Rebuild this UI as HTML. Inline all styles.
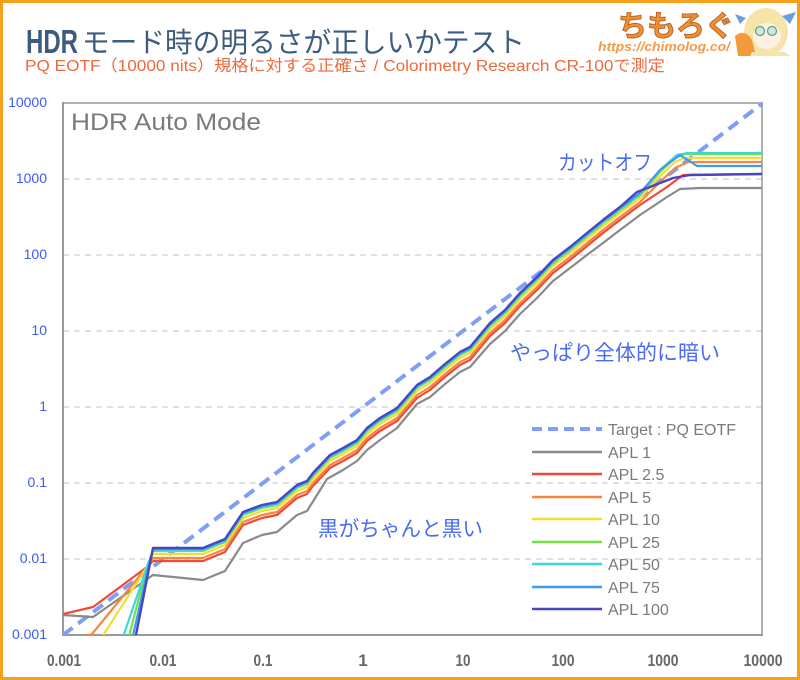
<!DOCTYPE html>
<html>
<head>
<meta charset="utf-8">
<style>
  html,body{margin:0;padding:0;background:#fff;}
  svg{display:block;}
  text{font-family:"Liberation Sans","Noto Sans CJK JP",sans-serif;}
</style>
</head>
<body>
<svg width="800" height="680" viewBox="0 0 800 680" xmlns="http://www.w3.org/2000/svg">
  <defs>
    <clipPath id="plot"><rect x="63" y="103" width="700" height="532"/></clipPath>
  </defs>
  <rect x="0" y="0" width="800" height="680" fill="#fff"/>
  <rect x="1.5" y="1.5" width="797" height="677" fill="none" stroke="#f6a11e" stroke-width="3"/>

  <!-- Title -->
  <text x="26" y="53" font-size="33" font-weight="bold" fill="#3d5b7e" textLength="52" lengthAdjust="spacingAndGlyphs">HDR</text>
  <text x="82" y="52" font-size="28" fill="#3d5b7e" textLength="443" lengthAdjust="spacingAndGlyphs">モード時の明るさが正しいかテスト</text>
  <text x="25" y="71" font-size="16" fill="#ec6a3c" textLength="640" lengthAdjust="spacingAndGlyphs">PQ EOTF（10000 nits）規格に対する正確さ / Colorimetry Research CR-100で測定</text>

  <!-- Logo -->
  <text x="618" y="36" font-size="29" font-weight="bold" fill="#f5902e" stroke="#b8652a" stroke-width="1" textLength="116" lengthAdjust="spacingAndGlyphs">ちもろぐ</text>
  <text x="598" y="51" font-size="13" font-weight="bold" font-style="italic" fill="#f39a4a" textLength="132" lengthAdjust="spacingAndGlyphs">https://chimolog.co/</text>
  <g>
    <ellipse cx="766" cy="32" rx="22" ry="24" fill="#f6e4aa"/>
    <path d="M746 18 L735 14 L740 24 Z" fill="#6a9ee0"/>
    <path d="M782 16 L796 12 L790 24 Z" fill="#6a9ee0"/>
    <ellipse cx="767" cy="36" rx="14" ry="13" fill="#fdf1e4"/>
    <circle cx="760" cy="31" r="4.5" fill="#cfe8d8" stroke="#5aa088" stroke-width="1.2"/>
    <circle cx="772" cy="31" r="4.5" fill="#cfe8d8" stroke="#5aa088" stroke-width="1.2"/>
    <path d="M735 36 Q745 28 752 40 L756 56 L738 56 Z" fill="#f29a3c"/>
    <path d="M752 52 L785 52 L790 56 L750 56 Z" fill="#f6e4aa"/>
  </g>

  <!-- Grid -->
  <g stroke="#cfcfcf" stroke-width="1.2" stroke-dasharray="6 5">
    <line x1="63" y1="179" x2="762" y2="179"/>
    <line x1="63" y1="255" x2="762" y2="255"/>
    <line x1="63" y1="331" x2="762" y2="331"/>
    <line x1="63" y1="407" x2="762" y2="407"/>
    <line x1="63" y1="483" x2="762" y2="483"/>
    <line x1="63" y1="559" x2="762" y2="559"/>
  </g>

  <!-- Frame -->
  <rect x="63" y="103" width="699" height="532" fill="none" stroke="#b0b0b0" stroke-width="2"/>
  <line x1="63" y1="102" x2="63" y2="636" stroke="#9a9a9a" stroke-width="2"/>
  <line x1="62" y1="635" x2="763" y2="635" stroke="#9a9a9a" stroke-width="2"/>

  <text x="71" y="130" font-size="24" fill="#7a7a7a" textLength="190" lengthAdjust="spacingAndGlyphs">HDR Auto Mode</text>

  <!-- Y labels -->
  <g font-size="14" fill="#3a5cf0" text-anchor="end">
    <text x="47" y="107">10000</text>
    <text x="47" y="183">1000</text>
    <text x="47" y="259">100</text>
    <text x="47" y="335">10</text>
    <text x="47" y="411">1</text>
    <text x="47" y="487">0.1</text>
    <text x="47" y="563">0.01</text>
    <text x="47" y="639">0.001</text>
  </g>

  <!-- X labels -->
  <g font-size="17" font-weight="bold" fill="#666" text-anchor="middle">
    <text x="64" y="666" textLength="34" lengthAdjust="spacingAndGlyphs">0.001</text>
    <text x="163" y="666" textLength="27" lengthAdjust="spacingAndGlyphs">0.01</text>
    <text x="263" y="666" textLength="19" lengthAdjust="spacingAndGlyphs">0.1</text>
    <text x="363" y="666">1</text>
    <text x="463" y="666" textLength="15" lengthAdjust="spacingAndGlyphs">10</text>
    <text x="563" y="666" textLength="23" lengthAdjust="spacingAndGlyphs">100</text>
    <text x="663" y="666" textLength="31" lengthAdjust="spacingAndGlyphs">1000</text>
    <text x="763" y="666" textLength="39" lengthAdjust="spacingAndGlyphs">10000</text>
  </g>

  <!-- Series -->
  <g clip-path="url(#plot)" fill="none" stroke-linejoin="round">
    <line x1="63" y1="635" x2="763" y2="103" stroke="#7f9ff5" stroke-width="4" stroke-dasharray="12 7"/>

    <polyline stroke="#8a8a8a" stroke-width="2.2" points="63,615 93,617 153,575 203,580 225,571 243,543 262,535 277,532 297,515 307,511 327,479 343,470 357,461 367,450 380,440 397,428 417,404 430,397 445,384 460,372 470,367 490,344 505,331 520,314 537,298 553,281 570,268 587,255 603,243 620,230 640,215 667,197 680,189 700,188 762,188"/>

    <polyline stroke="#f0493c" stroke-width="2.2" points="63,614 93,607 147,567 153,561 203,561 225,552 243,525 262,518 277,515 297,498 307,494 313,486 330,468 343,461 357,453 367,441 380,431 397,421 417,398 430,390 445,377 460,365 470,360 490,336 505,323 520,306 537,290 553,273 570,260 587,246 603,233 620,220 640,205 667,187 683,175 762,174"/>

    <polyline stroke="#f5883c" stroke-width="2.2" points="70,640 92,634 147,567 153,558 203,558 225,549 243,522 262,515 277,512 297,495 307,491 313,483 330,465 343,458 357,450 367,438 380,428 397,418 417,395 430,387 445,374 460,362 470,357 490,333 505,320 520,303 537,287 553,270 570,257 587,243 603,230 620,217 640,202 660,182 675,168 688,162 762,162"/>

    <polyline stroke="#f6dc32" stroke-width="2.2" points="100,640 147,567 153,554 203,554 225,545 243,518 262,511 277,508 297,491 307,487 313,479 330,461 343,454 357,446 367,434 380,424 397,414 417,391 430,383 445,370 460,358 470,353 490,329 505,316 520,299 537,283 553,266 570,253 587,239 603,226 620,213 640,198 660,176 675,162 685,158 762,158"/>

    <polyline stroke="#72e246" stroke-width="2.2" points="128,640 147,567 153,551 203,551 225,542 243,515 262,508 277,505 297,488 307,484 313,476 330,458 343,451 357,443 367,431 380,421 397,411 417,388 430,380 445,367 460,355 470,350 490,326 505,313 520,296 537,280 553,263 570,250 587,236 603,223 620,210 640,195 660,172 675,158 685,154 762,154"/>

    <polyline stroke="#3fd6dc" stroke-width="2.2" points="122,640 147,567 153,550 203,550 225,541 243,514 262,507 277,504 297,487 307,483 313,475 330,457 343,450 357,442 367,430 380,420 397,410 417,387 430,379 445,366 460,354 470,349 490,325 505,312 520,295 537,279 553,262 570,249 587,235 603,222 620,209 640,194 660,170 677,155 688,153 762,153"/>

    <polyline stroke="#3d9cf0" stroke-width="2.2" points="132,640 150,560 153,549 203,549 225,540 243,513 262,506 277,503 297,486 307,482 313,474 330,456 343,449 357,441 367,429 380,419 397,409 417,386 430,378 445,365 460,353 470,348 490,324 505,311 520,294 537,278 553,261 570,248 587,234 603,221 620,208 640,193 660,170 680,155 697,166 762,166"/>

    <polyline stroke="#4a46c0" stroke-width="2.4" points="135,640 153,548 203,548 225,539 243,512 262,505 277,502 297,485 307,481 313,473 330,455 343,448 357,440 367,428 380,418 397,408 417,385 430,377 445,364 460,352 470,347 490,323 505,310 520,293 537,277 553,260 570,247 587,233 603,220 620,207 637,192 650,187 673,178 690,175 762,174"/>
  </g>

  <!-- Annotations -->
  <g font-size="21" fill="#4a6cf0">
    <text x="558" y="170" textLength="94" lengthAdjust="spacingAndGlyphs">カットオフ</text>
    <text x="510" y="360" textLength="210" lengthAdjust="spacingAndGlyphs">やっぱり全体的に暗い</text>
    <text x="318" y="536" textLength="165" lengthAdjust="spacingAndGlyphs">黒がちゃんと黒い</text>
  </g>

  <!-- Legend -->
  <g stroke-width="2.4">
    <line x1="532" y1="429" x2="602" y2="429" stroke="#7f9ff5" stroke-width="4" stroke-dasharray="10 6"/>
    <line x1="532" y1="452" x2="602" y2="452" stroke="#8a8a8a"/>
    <line x1="532" y1="474" x2="602" y2="474" stroke="#f0493c"/>
    <line x1="532" y1="497" x2="602" y2="497" stroke="#f5883c"/>
    <line x1="532" y1="519" x2="602" y2="519" stroke="#f6dc32"/>
    <line x1="532" y1="542" x2="602" y2="542" stroke="#72e246"/>
    <line x1="532" y1="564" x2="602" y2="564" stroke="#3fd6dc"/>
    <line x1="532" y1="587" x2="602" y2="587" stroke="#3d9cf0"/>
    <line x1="532" y1="609" x2="602" y2="609" stroke="#4a46c0"/>
  </g>
  <g font-size="16" fill="#7a7a7a">
    <text x="608" y="435">Target : PQ EOTF</text>
    <text x="608" y="458">APL 1</text>
    <text x="608" y="480">APL 2.5</text>
    <text x="608" y="503">APL 5</text>
    <text x="608" y="525">APL 10</text>
    <text x="608" y="548">APL 25</text>
    <text x="608" y="570">APL 50</text>
    <text x="608" y="593">APL 75</text>
    <text x="608" y="615">APL 100</text>
  </g>
</svg>
</body>
</html>
